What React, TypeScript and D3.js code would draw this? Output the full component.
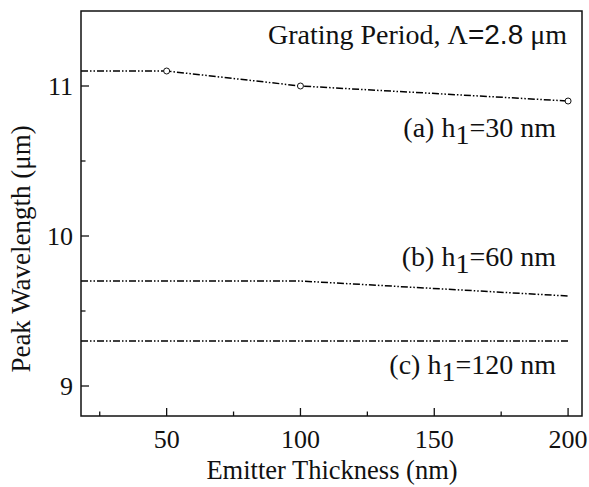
import React from 'react';
import * as d3 from 'd3';

const thicknessA = [18, 50, 100, 200];
const wavelengthA = [11.1, 11.1, 11.0, 10.9];
const markerThicknessA = [50, 100, 200];
const markerWavelengthA = [11.1, 11.0, 10.9];
const thicknessB = [18, 100, 200];
const wavelengthB = [9.7, 9.7, 9.6];
const thicknessC = [18, 200];
const wavelengthC = [9.3, 9.3];
const xMajorTicks = [50, 100, 150, 200];
const xMinorTicks = [25, 75, 125, 175];
const yMajorTicks = [9, 10, 11];
const yMinorTicks = [9.5, 10.5];
const seriesLabels = [
  { pre: '(a) h', sub: '1', post: '=30 nm', yVal: 10.66 },
  { pre: '(b) h', sub: '1', post: '=60 nm', yVal: 9.8 },
  { pre: '(c) h', sub: '1', post: '=120 nm', yVal: 9.08 },
];

const W = 589, H = 487;
const L = 81, R = 582, T = 11, B = 416;
const serif = '"Liberation Serif", "Times New Roman", serif';
const sans = '"Liberation Sans", Arial, sans-serif';
const dash = '7,2,1.5,2,1.5,2';

export default function App() {
  const x = d3.scaleLinear().domain([18, 205.2]).range([L, R]);
  const y = d3.scaleLinear().domain([8.8, 11.5]).range([B, T]);
  const line = d3.line<[number, number]>().x(d => x(d[0])).y(d => y(d[1]));
  const mk = (xs: number[], ys: number[]) => xs.map((v, i) => [v, ys[i]] as [number, number]);
  const series = [mk(thicknessA, wavelengthA), mk(thicknessB, wavelengthB), mk(thicknessC, wavelengthC)];
  return (
    <svg width={W} height={H} style={{ position: 'absolute', left: 0, top: 0, background: '#fff' }}>
      <rect x={0} y={0} width={W} height={H} fill="#fff" />
      {series.map((s, i) => (
        <path key={i} d={line(s) || ''} fill="none" stroke="#000" strokeWidth={1.5} strokeDasharray={dash} />
      ))}
      {markerThicknessA.map((t, i) => (
        <circle key={i} cx={x(t)} cy={y(markerWavelengthA[i])} r={3} fill="#fff" stroke="#111" strokeWidth={1} />
      ))}
      <rect x={L} y={T} width={R - L} height={B - T} fill="none" stroke="#111" strokeWidth={1.5} />
      {xMajorTicks.map(t => (
        <g key={t}>
          <line x1={x(t)} x2={x(t)} y1={B} y2={B - 8} stroke="#111" strokeWidth={1.3} />
          <text x={x(t)} y={448} textAnchor="middle" fontFamily={serif} fontSize={26} fill="#111">{t}</text>
        </g>
      ))}
      {xMinorTicks.map(t => (
        <line key={t} x1={x(t)} x2={x(t)} y1={B} y2={B - 4.5} stroke="#111" strokeWidth={1.3} />
      ))}
      {yMajorTicks.map(t => (
        <g key={t}>
          <line x1={L} x2={L + 8} y1={y(t)} y2={y(t)} stroke="#111" strokeWidth={1.3} />
          <text x={73} y={y(t) + 9} textAnchor="end" fontFamily={serif} fontSize={26} fill="#111">{t}</text>
        </g>
      ))}
      {yMinorTicks.map(t => (
        <line key={t} x1={L} x2={L + 4.5} y1={y(t)} y2={y(t)} stroke="#111" strokeWidth={1.3} />
      ))}
      <text x={332} y={479} textAnchor="middle" fontFamily={serif} fontSize={26.5} fill="#111">Emitter Thickness (nm)</text>
      <text transform={`translate(30,${249}) rotate(-90)`} textAnchor="middle" fontFamily={serif} fontSize={27} fill="#111">Peak Wavelength (μm)</text>
      <text x={567} y={44} textAnchor="end" fontFamily={serif} fontSize={28} fill="#111">
        Grating Period, Λ<tspan fontFamily={sans}>=2.8</tspan> μm
      </text>
      {seriesLabels.map((s, i) => (
        <text key={i} x={556} y={y(s.yVal)} textAnchor="end" fontFamily={serif} fontSize={28} fill="#111">
          {s.pre}
          <tspan dy={7}>{s.sub}</tspan>
          <tspan dy={-7}>{s.post}</tspan>
        </text>
      ))}
    </svg>
  );
}
